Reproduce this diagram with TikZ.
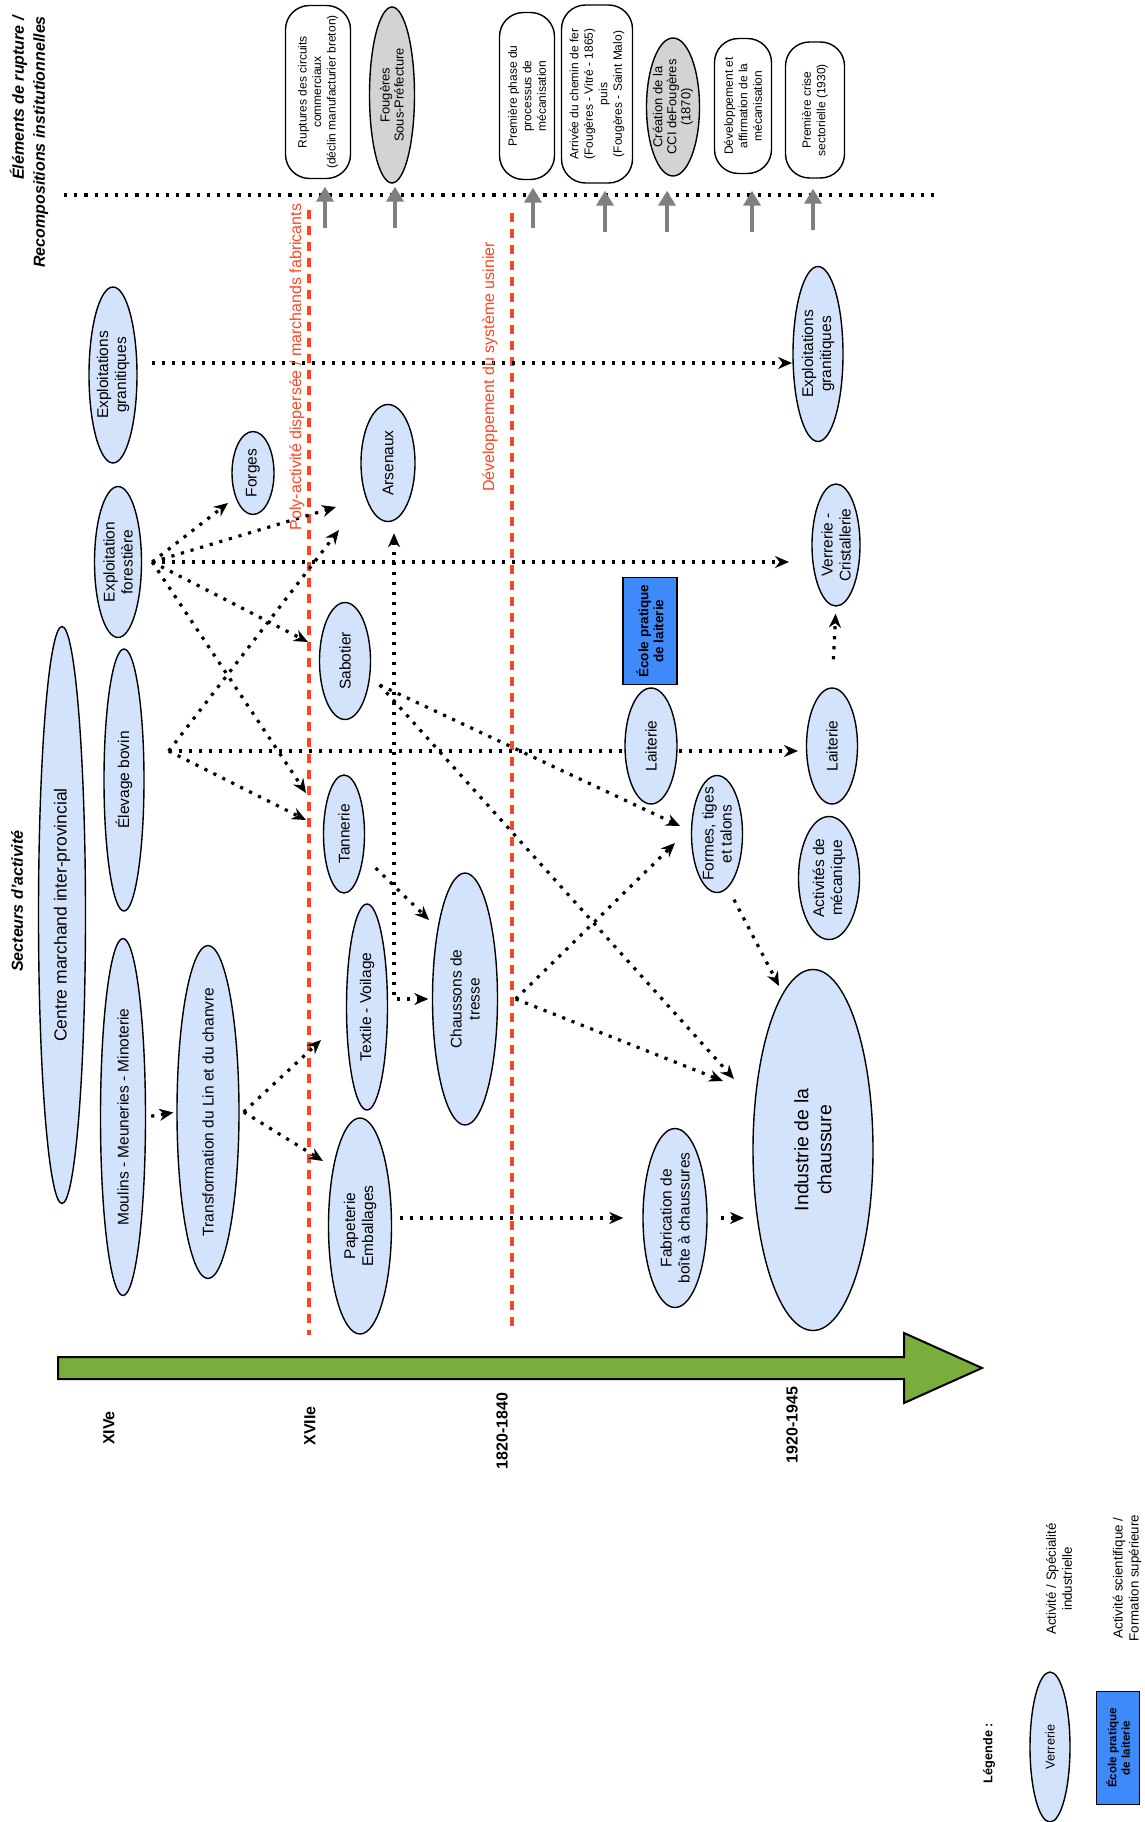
\documentclass[tikz,border=0pt]{standalone}
\usepackage{fontspec}
\setmainfont{Liberation Sans}
\usetikzlibrary{arrows.meta,shapes.geometric,backgrounds}
\definecolor{actfill}{RGB}{212,227,252}
\definecolor{greyfill}{RGB}{211,211,211}
\definecolor{ecoleblue}{RGB}{62,138,250}
\definecolor{timegreen}{RGB}{122,173,59}
\definecolor{phasered}{RGB}{255,68,34}

\begin{document}
\begin{tikzpicture}[x=1pt, y=-1pt, >={Stealth[length=14pt,width=12pt]},
    act/.style={ellipse, draw, line width=1.4pt, fill=actfill, rotate=90, align=center, inner sep=-10pt, font=\fontsize{15.5}{18}\selectfont},
    evt/.style={draw, line width=1.4pt, fill=white, rounded corners=24pt, rotate=90, align=center, inner sep=0pt, font=\fontsize{12}{14.5}\selectfont},
    evtg/.style={ellipse, draw, line width=1.4pt, fill=greyfill, rotate=90, align=center, inner sep=-10pt, font=\fontsize{13}{14}\selectfont},
    ecole/.style={draw, line width=1.4pt, fill=ecoleblue, rotate=90, align=center, inner sep=0pt, font=\bfseries\fontsize{13.5}{15}\selectfont},
    lbl/.style={rotate=90, align=center, inner sep=0pt},
    dep/.style={->, line width=3.2pt, dash pattern=on 3.2pt off 6.8pt},
    phase/.style={phasered, line width=3.3pt, dash pattern=on 9pt off 7pt},
    jalon/.style={draw=gray, line width=4pt, -{Triangle[length=15pt,width=17pt]}}]
  \useasboundingbox (0,0) rectangle (1144,1822);

  % titres
  \node[lbl, align=right, font=\bfseries\itshape\fontsize{16}{21}\selectfont] (titreRupt) at (29,142) {Éléments de rupture /\\Recompositions institutionnelles};
  \node[lbl, font=\bfseries\itshape\fontsize{16}{19}\selectfont] (titreSect) at (17,901) {Secteurs d'activité};

  % axe des ruptures
  \draw[line width=3.2pt, dash pattern=on 3.2pt off 7pt] (64,195) -- (936,195);
  \node[evt, minimum width=173pt, minimum height=65pt] (rupt1) at (318,92) {Ruptures des circuits\\commerciaux\\(déclin manufacturier breton)};
  \node[evtg, minimum width=176pt, minimum height=45pt] (fougeres) at (392,95) {Fougères\\Sous-Préfecture};
  \node[evt, minimum width=167pt, minimum height=55pt] (meca1) at (527,96) {Première phase du\\processus de\\mécanisation};
  \node[evt, minimum width=178pt, minimum height=71pt] (rail) at (597,94) {Arrivée du chemin de fer\\(Fougères - Vitré - 1865)\\puis\\(Fougères - Saint Malo)};
  \node[evtg, minimum width=138pt, minimum height=53pt] (cci) at (673,107) {Création de la\\CCI deFougères\\(1870)};
  \node[evt, minimum width=135pt, minimum height=57pt] (meca2) at (743,106) {Développement et\\affirmation de la\\mécanisation};
  \node[evt, minimum width=136pt, minimum height=59pt] (crise) at (815,110) {Première crise\\sectorielle (1930)};

  \coordinate (j1) at (325,228);
  \coordinate (j2) at (395,228);
  \coordinate (j3) at (533,228);
  \coordinate (j4) at (605,232);
  \coordinate (j5) at (667,232);
  \coordinate (j6) at (752,232);
  \coordinate (j7) at (813,230);
  \draw[jalon, shorten >=7.5pt] (j1) -- (j1 |- rupt1.west);
  \draw[jalon, shorten >=3pt] (j2) -- (j2 |- fougeres.west);
  \draw[jalon, shorten >=7.5pt] (j3) -- (j3 |- meca1.west);
  \draw[jalon, shorten >=7pt] (j4) -- (j4 |- rail.west);
  \draw[jalon, shorten >=14pt] (j5) -- (j5 |- cci.west);
  \draw[jalon, shorten >=16.5pt] (j6) -- (j6 |- meca2.west);
  \draw[jalon, shorten >=10pt] (j7) -- (j7 |- crise.west);

  % phases
  \node[lbl, text=phasered, font=\fontsize{16}{19}\selectfont] (phase1) at (297,367) {Poly-activité dispersée / marchands fabricants};
  \node[lbl, text=phasered, font=\fontsize{16}{19}\selectfont] (phase2) at (490,367) {Développement du système usinier};

  % activites
  \node[act, minimum width=176pt, minimum height=48pt] (granL) at (113,375) {Exploitations\\granitiques};
  \node[act, minimum width=151pt, minimum height=47pt] (forest) at (118,562) {Exploitation\\forestière};
  \node[act, minimum width=577pt, minimum height=47pt, font=\fontsize{17.5}{20}\selectfont] (centre) at (62,915) {Centre marchand inter-provincial};
  \node[act, minimum width=262pt, minimum height=40pt] (elevage) at (124,780) {Élevage bovin};
  \node[act, minimum width=357pt, minimum height=45pt] (moulins) at (123,1117) {Moulins - Meuneries - Minoterie};
  \node[act, minimum width=333pt, minimum height=62pt] (transfo) at (208,1112) {Transformation du Lin et du chanvre};
  \node[act, minimum width=83pt, minimum height=42pt] (forges) at (253,473) {Forges};
  \node[act, minimum width=117pt, minimum height=54pt] (arsenaux) at (388,463) {Arsenaux};
  \node[act, minimum width=117pt, minimum height=51pt] (sabotier) at (345,661) {Sabotier};
  \node[act, minimum width=118pt, minimum height=41pt] (tannerie) at (344,834) {Tannerie};
  \node[act, minimum width=206pt, minimum height=41pt] (textile) at (367,1007) {Textile - Voilage};
  \node[act, minimum width=252pt, minimum height=65pt] (chaussons) at (465,999) {Chaussons de\\tresse};
  \node[act, minimum width=216pt, minimum height=63pt] (papeterie) at (360,1226) {Papeterie\\Emballages};
  \node[ecole, minimum width=107pt, minimum height=54pt] (ecole) at (650,631) {École pratique\\de laiterie};
  \node[act, minimum width=116pt, minimum height=52pt] (laitL) at (651,746) {Laiterie};
  \node[act, minimum width=117pt, minimum height=51pt] (formes) at (717,834) {Formes, tiges\\et talons};
  \node[act, minimum width=179pt, minimum height=64pt] (fabrication) at (675,1218) {Fabrication de\\boîte à chaussures};
  \node[act, minimum width=361pt, minimum height=120pt, font=\fontsize{19.5}{23}\selectfont] (industrie) at (813,1150) {Industrie de la\\chaussure};
  \node[act, minimum width=175pt, minimum height=50pt] (granR) at (818,354) {Exploitations\\granitiques};
  \node[act, minimum width=122pt, minimum height=48pt] (verrerie) at (836,545) {Verrerie -\\Cristallerie};
  \node[act, minimum width=116pt, minimum height=51pt] (laitR) at (832,746) {Laiterie};
  \node[act, minimum width=123pt, minimum height=61pt] (meca) at (829,878) {Activités de\\mécanique};

  % liens
  \coordinate (forFan) at ([xshift=10pt]forest.south);
  \coordinate (eleFan) at ([shift={(24pt,29pt)}]elevage.south);
  \coordinate (linFan) at ([xshift=4pt]transfo.south);
  \coordinate (sabFan) at ([shift={(8.5pt,-24pt)}]sabotier.south);
  \coordinate (chauFan) at ([xshift=17.5pt]chaussons.south);
  \coordinate (toGranR) at (792,363);
  \coordinate (toForges) at (228,503);
  \coordinate (toArsA) at (336,507);
  \coordinate (toVerrerie) at (789,562);
  \coordinate (toSabotier) at (308,642);
  \coordinate (toTannA) at (306,793);
  \coordinate (toLaitR) at (798,751);
  \coordinate (toArsB) at (339,530);
  \coordinate (toTannB) at (306,820);
  \coordinate (toTextile) at (321,1040);
  \coordinate (toPapeterie) at (323,1161);
  \coordinate (toChausA) at (429,920);
  \coordinate (toFormesA) at (680,826);
  \coordinate (toIndA) at (734,1079);
  \coordinate (toFormesB) at (675,843);
  \coordinate (toIndB) at (723,1081);
  \coordinate (toIndC) at (779,986);
  \coordinate (toInd) at (744,1218);
  \begin{scope}[on background layer]
    \draw[phase] (309,210) -- (309,1335);
    \draw[phase] (512,213) -- (512,1332);
    \draw[dep] ([xshift=14pt,yshift=12pt]granL.south) -- (toGranR);
    \draw[dep] (forFan) -- (toForges);
    \draw[dep] (forFan) -- (toArsA);
    \draw[dep] (forFan) -- (toVerrerie);
    \draw[dep] (forFan) -- (toSabotier);
    \draw[dep] (forFan) -- (toTannA);
    \draw[dep] (eleFan) -- (toLaitR);
    \draw[dep] (eleFan) -- (toArsB);
    \draw[dep] (eleFan) -- (toTannB);
    \draw[dep, shorten <=5pt, shorten >=3pt] (moulins.south) -- (transfo.north);
    \draw[dep] (linFan) -- (toTextile);
    \draw[dep] (linFan) -- (toPapeterie);
    \draw[dep, shorten >=19pt] ([shift={(8pt,8pt)}]papeterie.south) -- (fabrication.north);
    \draw[dep] ([xshift=13pt]fabrication.south) -- (toInd);
    \draw[dep] ([shift={(10.5pt,-34pt)}]tannerie.south) -- (toChausA);
    \draw[dep, <->, shorten <=11pt, shorten >=3.5pt] ([xshift=6pt]arsenaux.west) |- (chaussons.north);
    \draw[dep] (sabFan) -- (toFormesA);
    \draw[dep] (sabFan) -- (toIndA);
    \draw[dep] (chauFan) -- (toFormesB);
    \draw[dep] (chauFan) -- (toIndB);
    \draw[dep] ([shift={(17pt,-6.5pt)}]formes.west) -- (toIndC);
    \draw[dep, shorten <=28pt, shorten >=7pt] (laitR.east) -- (verrerie.west);
  \end{scope}

  % frise
  \filldraw[fill=timegreen, draw=black, line width=2pt] (58,1357) -- (904,1357) -- (904,1333) -- (982,1368) -- (904,1403) -- (904,1379) -- (58,1379) -- cycle;
  \node[lbl, font=\bfseries\fontsize{16}{19}\selectfont] (d14) at (109,1428) {XIVe};
  \node[lbl, font=\bfseries\fontsize{16}{19}\selectfont] (d17) at (310,1426) {XVIIe};
  \node[lbl, font=\bfseries\fontsize{16}{19}\selectfont] (d1820) at (502,1431) {1820-1840};
  \node[lbl, font=\bfseries\fontsize{16}{19}\selectfont] (d1920) at (792,1425) {1920-1945};

  % legende
  \node[lbl, font=\bfseries\fontsize{12.7}{15}\selectfont] (legTitre) at (989,1753) {Légende :};
  \node[act, minimum width=150pt, minimum height=40pt, font=\fontsize{12.7}{15}\selectfont] (legAct) at (1050,1747) {Verrerie};
  \node[ecole, minimum width=113pt, minimum height=43pt, font=\bfseries\fontsize{11.6}{13.5}\selectfont] (legEcole) at (1118,1748) {École pratique\\de laiterie};
  \node[lbl, font=\fontsize{13.3}{16}\selectfont] (legActTxt) at (1059,1579) {Activité / Spécialité\\industrielle};
  \node[lbl, font=\fontsize{13.3}{16}\selectfont] (legEcoleTxt) at (1127,1578) {Activité scientifique /\\Formation supérieure};
\end{tikzpicture}
\end{document}
